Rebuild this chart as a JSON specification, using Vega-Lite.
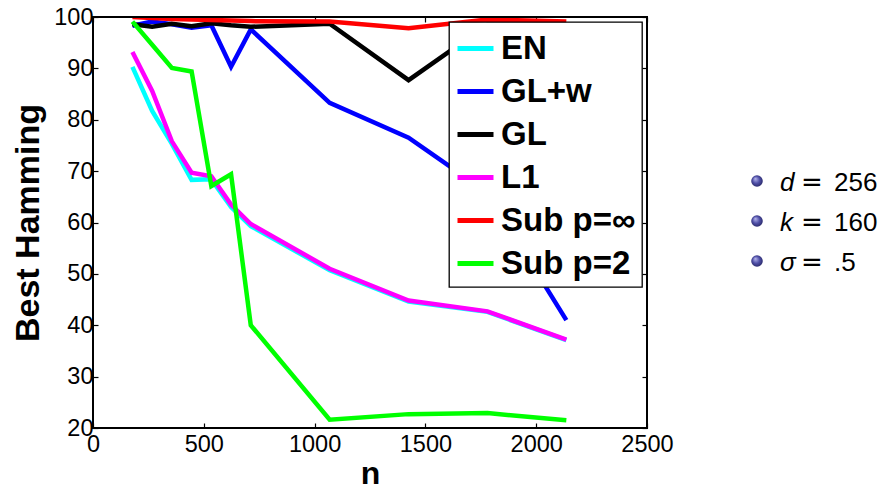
{
  "$schema": "https://vega.github.io/schema/vega-lite/v6.json",
  "background": "white",
  "padding": {"left": 11, "top": 5, "right": 0, "bottom": 4},
  "bounds": "flush",
  "spacing": 110,
  "resolve": {"legend": {"color": "independent"}},
  "config": {
    "font": "Liberation Sans",
    "view": {"stroke": null},
    "axis": {
      "grid": false,
      "domain": false,
      "tickColor": "black",
      "tickSize": -5,
      "tickWidth": 1.2,
      "labelFont": "Liberation Sans",
      "labelFontSize": 23.5,
      "labelColor": "black",
      "titleFont": "Liberation Sans",
      "titleFontSize": 32,
      "titleFontWeight": "bold",
      "titleColor": "black"
    },
    "legend": {
      "orient": "top-right",
      "offset": 5,
      "strokeColor": "black",
      "strokeWidth": 1.3,
      "fillColor": "white",
      "padding": 6,
      "title": null,
      "symbolType": "stroke",
      "symbolSize": 1296,
      "symbolStrokeWidth": 5,
      "labelFont": "Liberation Sans",
      "labelFontSize": 33,
      "labelFontWeight": "bold",
      "labelColor": "black",
      "labelOffset": 5,
      "rowPadding": 5
    }
  },
  "datasets": {
    "lines": [
      {"method": "EN", "n": 178, "h": 90.3}, {"method": "EN", "n": 267, "h": 81.7}, {"method": "EN", "n": 356, "h": 75.3}, {"method": "EN", "n": 445, "h": 68.3}, {"method": "EN", "n": 534, "h": 68.4}, {"method": "EN", "n": 623, "h": 63.0}, {"method": "EN", "n": 712, "h": 59.3}, {"method": "EN", "n": 1068, "h": 50.7}, {"method": "EN", "n": 1424, "h": 44.6}, {"method": "EN", "n": 1780, "h": 42.6}, {"method": "EN", "n": 2136, "h": 37.1},
      {"method": "GL+w", "n": 178, "h": 98.3}, {"method": "GL+w", "n": 267, "h": 99.1}, {"method": "GL+w", "n": 356, "h": 98.6}, {"method": "GL+w", "n": 445, "h": 97.9}, {"method": "GL+w", "n": 534, "h": 98.4}, {"method": "GL+w", "n": 623, "h": 90.3}, {"method": "GL+w", "n": 712, "h": 97.6}, {"method": "GL+w", "n": 1068, "h": 83.3}, {"method": "GL+w", "n": 1424, "h": 76.5}, {"method": "GL+w", "n": 1780, "h": 65.8}, {"method": "GL+w", "n": 2136, "h": 41.0},
      {"method": "GL", "n": 178, "h": 98.6}, {"method": "GL", "n": 267, "h": 98.1}, {"method": "GL", "n": 356, "h": 98.7}, {"method": "GL", "n": 445, "h": 98.2}, {"method": "GL", "n": 534, "h": 98.8}, {"method": "GL", "n": 623, "h": 98.4}, {"method": "GL", "n": 712, "h": 98.1}, {"method": "GL", "n": 1068, "h": 98.7}, {"method": "GL", "n": 1424, "h": 87.7}, {"method": "GL", "n": 1780, "h": 98.5}, {"method": "GL", "n": 2136, "h": 98.3},
      {"method": "L1", "n": 178, "h": 93.2}, {"method": "L1", "n": 267, "h": 85.6}, {"method": "L1", "n": 356, "h": 75.8}, {"method": "L1", "n": 445, "h": 69.7}, {"method": "L1", "n": 534, "h": 69.0}, {"method": "L1", "n": 623, "h": 63.5}, {"method": "L1", "n": 712, "h": 59.7}, {"method": "L1", "n": 1068, "h": 51.0}, {"method": "L1", "n": 1424, "h": 44.8}, {"method": "L1", "n": 1780, "h": 42.7}, {"method": "L1", "n": 2136, "h": 37.2},
      {"method": "Sub p=∞", "n": 178, "h": 100.0}, {"method": "Sub p=∞", "n": 267, "h": 99.8}, {"method": "Sub p=∞", "n": 356, "h": 99.6}, {"method": "Sub p=∞", "n": 445, "h": 99.5}, {"method": "Sub p=∞", "n": 534, "h": 99.4}, {"method": "Sub p=∞", "n": 623, "h": 99.3}, {"method": "Sub p=∞", "n": 712, "h": 99.2}, {"method": "Sub p=∞", "n": 1068, "h": 99.1}, {"method": "Sub p=∞", "n": 1424, "h": 97.8}, {"method": "Sub p=∞", "n": 1780, "h": 99.5}, {"method": "Sub p=∞", "n": 2136, "h": 99.1},
      {"method": "Sub p=2", "n": 178, "h": 99.1}, {"method": "Sub p=2", "n": 267, "h": 94.6}, {"method": "Sub p=2", "n": 356, "h": 90.1}, {"method": "Sub p=2", "n": 445, "h": 89.4}, {"method": "Sub p=2", "n": 534, "h": 67.1}, {"method": "Sub p=2", "n": 623, "h": 69.4}, {"method": "Sub p=2", "n": 712, "h": 40.0}, {"method": "Sub p=2", "n": 1068, "h": 21.6}, {"method": "Sub p=2", "n": 1424, "h": 22.7}, {"method": "Sub p=2", "n": 1780, "h": 22.9}, {"method": "Sub p=2", "n": 2136, "h": 21.5}
    ],
    "params": [
      {"var": "d", "val": "256"},
      {"var": "k", "val": "160"},
      {"var": "σ", "val": ".5"}
    ]
  },
  "hconcat": [
    {
      "width": 554,
      "height": 411,
      "data": {"name": "lines"},
      "layer": [
        {
          "mark": {"type": "line", "strokeWidth": 4.5, "clip": true},
          "encoding": {
            "x": {"field": "n", "type": "quantitative", "title": "n",
                  "scale": {"domain": [0, 2500], "nice": false},
                  "axis": {"values": [0, 500, 1000, 1500, 2000, 2500], "format": "d", "labelPadding": 9, "titlePadding": 28, "titleBaseline": "alphabetic", "labelFlush": false}},
            "y": {"field": "h", "type": "quantitative", "title": "Best Hamming",
                  "scale": {"domain": [20, 100], "nice": false, "zero": false},
                  "axis": {"values": [20, 30, 40, 50, 60, 70, 80, 90, 100], "format": "d", "labelPadding": 5, "titlePadding": 8, "titleFontSize": 34, "labelFlush": false}},
            "color": {"field": "method", "type": "nominal",
                      "scale": {"domain": ["EN", "GL+w", "GL", "L1", "Sub p=∞", "Sub p=2"],
                                "range": ["#00ffff", "#0000ff", "#000000", "#ff00ff", "#ff0000", "#00ff00"]}}
          }
        },
        {
          "mark": {"type": "line", "strokeOpacity": 0},
          "encoding": {
            "x": {"field": "n", "type": "quantitative",
                  "axis": {"orient": "top", "labels": false, "title": null, "values": [0, 500, 1000, 1500, 2000, 2500]}},
            "y": {"field": "h", "type": "quantitative",
                  "axis": {"orient": "right", "labels": false, "title": null, "values": [20, 30, 40, 50, 60, 70, 80, 90, 100]}},
            "detail": {"field": "method"}
          }
        },
        {
          "mark": {"type": "rect", "fill": null, "stroke": "black", "strokeWidth": 1.3},
          "encoding": {}
        }
      ],
      "resolve": {"axis": {"x": "independent", "y": "independent"}}
    },
    {
      "width": 116,
      "height": 411,
      "data": {"name": "params"},
      "encoding": {
        "x": {"datum": 0, "type": "quantitative", "scale": {"domain": [0, 10]}, "axis": null},
        "y": {"field": "var", "type": "nominal", "sort": null, "scale": {"type": "point", "range": [164, 244], "padding": 0}, "axis": null}
      },
      "layer": [
        {
          "mark": {"type": "point", "filled": true, "size": 135, "opacity": 1,
                   "color": {"gradient": "radial", "x1": 0.35, "y1": 0.3, "r1": 0, "x2": 0.5, "y2": 0.5, "r2": 0.6,
                             "stops": [{"offset": 0, "color": "#b8b8ee"}, {"offset": 0.5, "color": "#5050a8"}, {"offset": 1, "color": "#20205a"}]}}
        },
        {
          "mark": {"type": "text", "align": "left", "baseline": "alphabetic", "dx": 23, "dy": 10, "fontSize": 26, "fontStyle": "italic", "font": "Liberation Sans", "color": "black"},
          "encoding": {"text": {"field": "var"}}
        },
        {
          "mark": {"type": "text", "align": "left", "baseline": "alphabetic", "dx": 44, "dy": 10, "fontSize": 26, "font": "DejaVu Sans", "color": "black", "text": "="},
          "encoding": {}
        },
        {
          "mark": {"type": "text", "align": "left", "baseline": "alphabetic", "dx": 77, "dy": 10, "fontSize": 26, "font": "Liberation Sans", "color": "black"},
          "encoding": {"text": {"field": "val"}}
        }
      ]
    }
  ]
}
